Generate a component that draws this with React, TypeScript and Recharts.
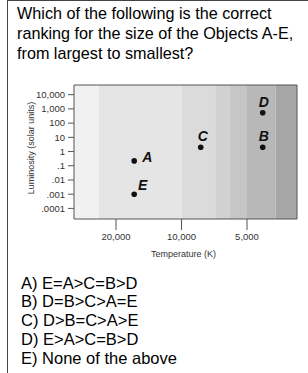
import React from "react";
import {
  ComposedChart,
  Scatter,
  XAxis,
  YAxis,
  ReferenceArea,
  Label,
} from "recharts";

// ---- data ----
const objectNames = ["A", "B", "C", "D", "E"];
const temperatures = [16500, 4235, 8160, 4235, 16500]; // K
const luminosities = [0.22, 2, 2, 540, 0.001]; // solar units

const xTicks = [20000, 10000, 5000];
const xTickLabels = ["20,000", "10,000", "5,000"];
const yTicks = [10000, 1000, 100, 10, 1, 0.1, 0.01, 0.001, 0.0001];
const yTickLabels = ["10,000", "1,000", "100", "10", "1", ".1", ".01", ".001", ".0001"];

// temperature band edges (K), hottest to coolest
const bandEdges = [31200, 24000, 10000, 7000, 6000, 5000, 3700, 2946];
const bandFills = ["#f1f1f1", "#e5e5e5", "#dbdbdb", "#d1d1d1", "#c6c6c6", "#b8b8b8", "#a7a7a7"];

const xDomain = [2946, 31200];
const yDomain = [1.8e-5, 4.8e4];

const questionLines = [
  "Which of the following is the correct",
  "ranking for the size of the Objects A-E,",
  "from largest to smallest?",
];
const answerLines = [
  "A) E=A>C=B>D",
  "B) D=B>C>A=E",
  "C) D>B=C>A>E",
  "D) E>A>C=B>D",
  "E) None of the above",
];

const points = objectNames.map((n, i) => ({
  name: n,
  t: temperatures[i],
  l: luminosities[i],
}));

// label placement style (relative to dot)
const labelOffset: Record<string, [number, number]> = {
  A: [13, -4],
  E: [8.5, -9.5],
  C: [2, -11],
  B: [1, -11],
  D: [1, -11],
};

const Dot = (props: any) => {
  const { cx, cy, payload } = props;
  const off = labelOffset[payload.name] || [0, -11];
  return (
    <g>
      <circle cx={cx} cy={cy} r={2.8} fill="#111" />
      <text
        x={cx + off[0]}
        y={cy + off[1]}
        textAnchor="middle"
        dominantBaseline="central"
        fontSize={14}
        fontWeight="bold"
        fontStyle="italic"
        fontFamily="Liberation Sans, Arial, sans-serif"
        fill="#111"
      >
        {payload.name}
      </text>
    </g>
  );
};

const fontFamily = "Liberation Sans, Arial, Helvetica, sans-serif";

export default function App() {
  return (
    <div
      style={{
        position: "absolute",
        left: 0,
        top: 0,
        width: 308,
        height: 373,
        overflow: "hidden",
        background: "#fff",
        fontFamily,
      }}
    >
      <div
        style={{
          position: "absolute",
          left: 7,
          top: 0,
          width: 301,
          height: 373,
          borderLeft: "1px solid #444",
          borderTop: "1px solid #444",
          boxSizing: "border-box",
        }}
      />
      <div style={{ position: "absolute", left: 0, top: 0 }}>
        <ComposedChart
          width={308}
          height={270}
          data={points}
          margin={{ top: 85, right: 11, bottom: 6, left: 10 }}
        >
          {bandFills.map((f, i) => (
            <ReferenceArea
              key={i}
              x1={bandEdges[i]}
              x2={bandEdges[i + 1]}
              y1={yDomain[0]}
              y2={yDomain[1]}
              fill={f}
              fillOpacity={1}
              stroke="none"
              ifOverflow="visible"
            />
          ))}
          <ReferenceArea
            x1={xDomain[0]}
            x2={xDomain[1]}
            y1={yDomain[0]}
            y2={yDomain[1]}
            fill="none"
            stroke="#555"
            strokeWidth={1}
            ifOverflow="visible"
          />
          <XAxis
            dataKey="t"
            type="number"
            scale="log"
            domain={xDomain}
            reversed
            allowDataOverflow
            ticks={xTicks}
            tickFormatter={(v: number) => xTickLabels[xTicks.indexOf(v)] ?? String(v)}
            tickSize={11}
            tickMargin={3}
            axisLine={false}
            tickLine={{ stroke: "#555" }}
            tick={{ fontSize: 9.5, fill: "#333", fontFamily }}
            height={45}
            interval={0}
          >
            <Label
              value="Temperature (K)"
              position="insideBottom"
              offset={7}
              dx={-2}
              style={{ fontSize: 9, fill: "#333", fontFamily }}
            />
          </XAxis>
          <YAxis
            dataKey="l"
            type="number"
            scale="log"
            domain={yDomain}
            allowDataOverflow
            ticks={yTicks}
            tickFormatter={(v: number) => {
              const i = yTicks.findIndex((t) => Math.abs(t - v) / t < 1e-6);
              return i >= 0 ? yTickLabels[i] : String(v);
            }}
            tickSize={6}
            tickMargin={3}
            axisLine={false}
            tickLine={{ stroke: "#555" }}
            tick={{ fontSize: 9.5, fill: "#333", fontFamily }}
            width={64}
            interval={0}
          >
            <Label
              content={() => (
                <text
                  x={31}
                  y={148}
                  transform="rotate(-90, 31, 148)"
                  textAnchor="middle"
                  dominantBaseline="central"
                  fontSize={9}
                  fill="#333"
                  fontFamily={fontFamily}
                >
                  Luminosity (solar units)
                </text>
              )}
            />
          </YAxis>
          <Scatter dataKey="l" shape={<Dot />} isAnimationActive={false} />
        </ComposedChart>
      </div>
      <div
        style={{
          position: "absolute",
          left: 17,
          top: 3,
          fontSize: 16.2,
          lineHeight: "20px",
          color: "#000",
          whiteSpace: "nowrap",
        }}
      >
        {questionLines.map((l, i) => (
          <div key={i}>{l}</div>
        ))}
      </div>
      <div
        style={{
          position: "absolute",
          left: 21,
          top: 273.5,
          fontSize: 16.5,
          lineHeight: "18.8px",
          color: "#000",
          whiteSpace: "nowrap",
        }}
      >
        {answerLines.map((l, i) => (
          <div key={i}>{l}</div>
        ))}
      </div>
    </div>
  );
}
